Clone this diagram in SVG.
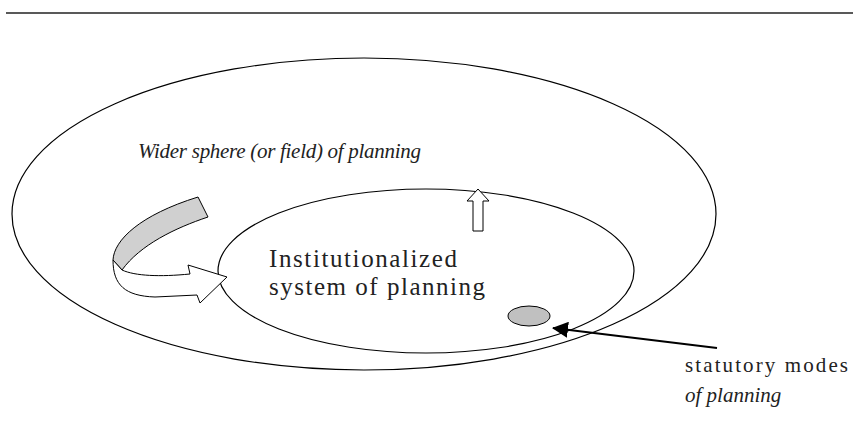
<svg xmlns="http://www.w3.org/2000/svg" width="853" height="436" viewBox="0 0 853 436">
<style>
.ln{fill:none;stroke:#000;stroke-width:1.2}
.t{font-family:'Liberation Serif','DejaVu Serif','Times New Roman',serif;fill:#222}
.it{font-style:italic}
</style>
<defs>
<marker id="ah" markerWidth="16" markerHeight="16" refX="15" refY="8" orient="auto" markerUnits="userSpaceOnUse">
<path d="M0,0 L16,8 L0,16 Z" fill="#000"/>
</marker>
</defs>
<rect width="853" height="436" fill="#fff"/>
<line x1="6" y1="13" x2="853" y2="13" stroke="#222" stroke-width="1.3"/>
<g id="outer">
<ellipse cx="364" cy="214" rx="352" ry="156" class="ln"/>
<text class="t it" x="138" y="158" font-size="21" textLength="283" lengthAdjust="spacing">Wider sphere (or field) of planning</text>
</g>
<g id="inner">
<ellipse cx="426" cy="271" rx="208" ry="82" class="ln"/>
<text class="t" x="269" y="267" font-size="25" textLength="188" lengthAdjust="spacing">Institutionalized</text>
<text class="t" x="269" y="295" font-size="25" textLength="216" lengthAdjust="spacing">system of planning</text>
</g>
<g id="statutory">
<ellipse cx="529" cy="316" rx="21" ry="10" fill="#c0c0c0" stroke="#000" stroke-width="1"/>
<text class="t" x="685" y="372" font-size="21" textLength="163" lengthAdjust="spacing">statutory modes</text>
<text class="t it" x="685" y="402" font-size="21">of planning</text>
</g>
<g id="connectors">
<line x1="717" y1="348" x2="553" y2="328" stroke="#000" stroke-width="2" marker-end="url(#ah)"/>
<path d="M478,189 L489,201 L483,201 L483,231 L473,231 L473,201 L467,201 Z" fill="#fff" stroke="#000" stroke-width="1"/>
<path d="M198,197 L208,217 C175,228 140,245 122,270 L113,260 C114,240 140,215 198,197 Z" fill="#d0d0d0" stroke="#000" stroke-width="1"/>
<path d="M113,260 C113,285 125,296 155,297 L197,295 L200,303 L227,277 L188,265 L190,274 C160,277 135,276 122,270 Z" fill="#fff" stroke="#000" stroke-width="1"/>
</g>
</svg>
